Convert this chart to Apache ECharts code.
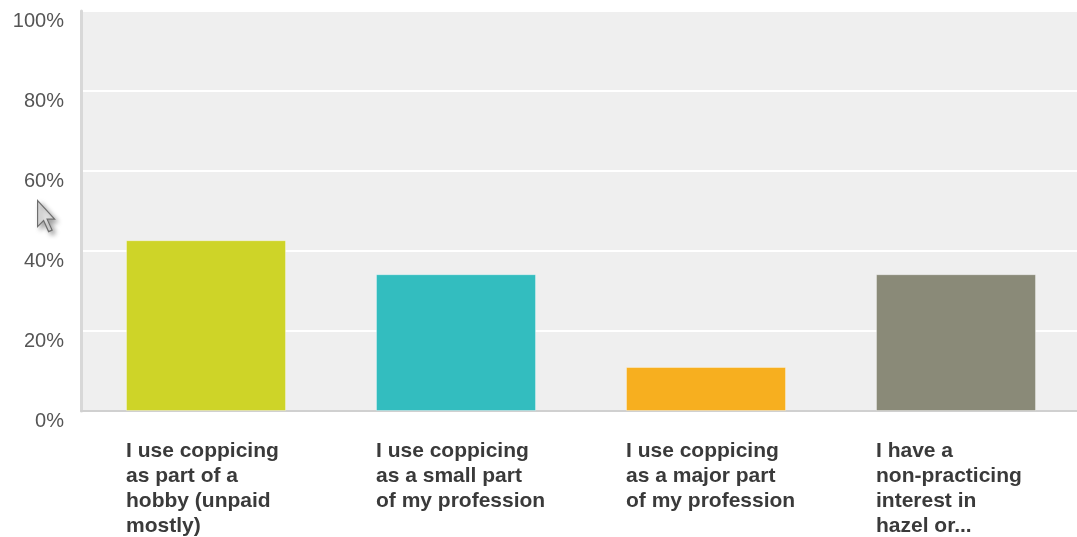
<!DOCTYPE html>
<html>
<head>
<meta charset="utf-8">
<script src="https://cdn.jsdelivr.net/npm/echarts@6/dist/echarts.min.js"></script>
<style>
  html, body { margin: 0; padding: 0; background: #ffffff; overflow: hidden; }
  #chart { width: 1081px; height: 537px; }
</style>
</head>
<body>
<div id="chart"></div>
<script>
// Survey answers (share of respondents, %)
const categories = [
  'I use coppicing\nas part of a\nhobby (unpaid\nmostly)',
  'I use coppicing\nas a small part\nof my profession',
  'I use coppicing\nas a major part\nof my profession',
  'I have a\nnon-practicing\ninterest in\nhazel or...'
];
const values = [42.7, 34.2, 11.0, 34.2];
const barColors = ['#CED428', '#33BDBF', '#F7AF1F', '#8A8A78'];
const yTicks = [0, 20, 40, 60, 80, 100];

const chart = echarts.init(document.getElementById('chart'), null, { renderer: 'canvas' });

const labelFont = 'Liberation Sans, Arial, sans-serif';

chart.setOption({
  animation: false,
  backgroundColor: '#ffffff',
  grid: {
    left: 81, top: 11, right: 0, height: 400,
    show: true, backgroundColor: '#EFEFEF', borderWidth: 0,
    containLabel: false
  },
  xAxis: {
    type: 'category',
    data: categories,
    axisLine: { show: true, lineStyle: { color: '#D0D0D0', width: 2 } },
    axisTick: { show: false },
    axisLabel: {
      interval: 0,
      margin: 28,
      align: 'center',
      formatter: v => v.split('\n').map(s => '{t|' + s + '}').join('\n'),
      rich: {
        t: {
          width: 160, align: 'left',
          color: '#3A3A3A',
          fontFamily: labelFont,
          fontWeight: 'bold', fontSize: 21, lineHeight: 25
        }
      }
    }
  },
  yAxis: {
    type: 'value',
    min: yTicks[0], max: yTicks[yTicks.length - 1], interval: 20,
    axisLine: { show: true, lineStyle: { color: '#D8D8D8', width: 3 } },
    axisTick: { show: false },
    splitLine: { show: true, lineStyle: { color: '#FFFFFF', width: 2 } },
    axisLabel: {
      margin: 17,
      color: '#555555',
      fontFamily: labelFont,
      fontSize: 20,
      verticalAlign: 'top',
      formatter: v => v + '%'
    }
  },
  series: [{
    type: 'bar',
    data: values.map((v, i) => ({
      value: v,
      itemStyle: { color: barColors[i], borderColor: 'rgba(255,255,255,0.35)', borderWidth: 1 }
    })),
    barWidth: 160
  }],
  graphic: [{
    type: 'polygon',
    left: 37, top: 200,
    shape: {
      points: [[0, 0], [0, 26], [6, 20], [11, 31], [14.5, 29.5], [9.5, 18.6], [17, 18.6]]
    },
    style: {
      fill: '#E2E2E2', stroke: '#6E6E6E', lineWidth: 1.2,
      shadowBlur: 5, shadowColor: 'rgba(0,0,0,0.35)', shadowOffsetX: 3, shadowOffsetY: 3
    },
    z: 100
  }]
});
</script>
</body>
</html>
